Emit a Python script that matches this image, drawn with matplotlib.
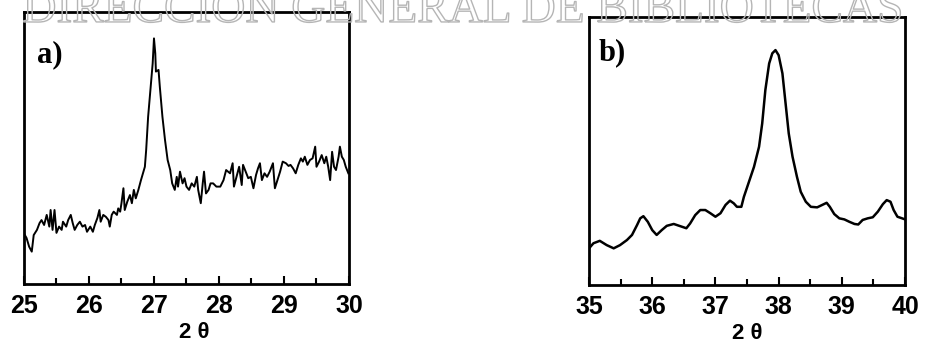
import matplotlib
matplotlib.use("Agg")
import matplotlib.pyplot as plt
import matplotlib.patheffects as pe
from matplotlib.ticker import MultipleLocator

# ==============================
# DATOS
# ==============================
# a) pico alrededor de 27 grados, senal ruidosa
x_a = [25.00, 25.04, 25.08, 25.12, 25.15, 25.20, 25.24, 25.27, 25.31, 25.35,
       25.39, 25.41, 25.44, 25.47, 25.50, 25.54, 25.58, 25.60, 25.65, 25.68,
       25.72, 25.75, 25.78, 25.82, 25.86, 25.90, 25.94, 25.97, 26.02, 26.06,
       26.09, 26.13, 26.16, 26.18, 26.22, 26.26, 26.30, 26.32, 26.35, 26.38,
       26.43, 26.45, 26.48, 26.50, 26.53, 26.55, 26.59, 26.63, 26.66, 26.69,
       26.72, 26.76, 26.80, 26.83, 26.86, 26.88, 26.91, 26.95, 26.98, 27.00,
       27.02, 27.03, 27.07, 27.09, 27.13, 27.17, 27.21, 27.25, 27.28, 27.32,
       27.35, 27.37, 27.40, 27.44, 27.47, 27.50, 27.54, 27.58, 27.62, 27.66,
       27.68, 27.72, 27.75, 27.77, 27.80, 27.84, 27.87, 27.91, 27.96, 28.02,
       28.07, 28.11, 28.14, 28.17, 28.21, 28.23, 28.27, 28.31, 28.35, 28.37,
       28.42, 28.45, 28.49, 28.53, 28.57, 28.60, 28.63, 28.66, 28.70, 28.74,
       28.78, 28.83, 28.86, 28.90, 28.94, 28.98, 29.03, 29.07, 29.10, 29.14,
       29.18, 29.22, 29.26, 29.29, 29.32, 29.36, 29.40, 29.44, 29.48, 29.50,
       29.54, 29.58, 29.62, 29.65, 29.68, 29.71, 29.74, 29.77, 29.80, 29.84,
       29.86, 29.89, 29.92, 29.95, 29.99]
y_a = [18.6, 16.9, 13.7, 11.9, 18.0, 19.9, 22.4, 23.5, 21.7, 25.4,
       21.1, 27.2, 19.9, 27.2, 18.8, 21.1, 19.9, 22.9, 21.1, 23.5,
       25.4, 22.4, 19.9, 21.7, 22.9, 21.1, 21.7, 19.2, 21.1, 19.2,
       21.7, 24.3, 27.2, 22.9, 25.4, 24.7, 23.5, 21.1, 25.4, 26.6,
       25.4, 27.8, 26.6, 29.7, 35.2, 27.2, 30.3, 32.7, 29.7, 34.6,
       31.5, 34.6, 38.2, 40.7, 43.1, 49.3, 61.5, 72.5, 81.1, 90.3,
       84.8, 78.1, 78.7, 72.5, 61.5, 52.9, 45.6, 41.9, 37.0, 34.6,
       39.4, 35.8, 41.3, 37.0, 38.9, 35.8, 34.6, 37.0, 35.8, 39.4,
       34.6, 29.7, 37.0, 41.3, 33.3, 34.6, 37.0, 37.0, 35.8, 35.8,
       38.2, 41.9, 41.3, 40.7, 44.4, 35.8, 39.4, 43.1, 36.4, 43.8,
       40.7, 38.9, 39.4, 35.2, 40.1, 42.5, 44.4, 38.2, 40.7, 39.4,
       41.3, 44.4, 35.2, 38.2, 41.3, 45.0, 44.4, 43.4, 43.8, 42.5,
       40.7, 43.8, 46.2, 45.0, 46.8, 43.8, 45.6, 46.2, 50.5, 43.1,
       45.0, 47.4, 44.4, 46.8, 43.1, 38.2, 48.6, 43.1, 41.9, 46.8,
       50.5, 46.8, 45.6, 43.1, 40.7]

# b) pico alrededor de 38 grados, senal suave
x_b = [35.00, 35.07, 35.17, 35.28, 35.39, 35.49, 35.60, 35.68, 35.76, 35.81,
       35.86, 35.93, 36.00, 36.07, 36.15, 36.23, 36.34, 36.44, 36.54, 36.60,
       36.68, 36.76, 36.84, 36.92, 37.00, 37.08, 37.16, 37.23, 37.29, 37.34,
       37.41, 37.45, 37.53, 37.61, 37.69, 37.74, 37.79, 37.85, 37.90, 37.95,
       38.00, 38.06, 38.11, 38.16, 38.22, 38.29, 38.35, 38.43, 38.51, 38.61,
       38.69, 38.76, 38.81, 38.88, 38.96, 39.04, 39.12, 39.20, 39.26, 39.33,
       39.41, 39.49, 39.57, 39.65, 39.71, 39.77, 39.82, 39.88, 39.99]
y_b = [13.7, 15.6, 16.5, 14.9, 13.7, 14.9, 16.8, 18.7, 22.4, 24.9,
       25.7, 23.6, 20.5, 18.7, 20.5, 22.1, 22.8, 22.0, 21.2, 23.0,
       26.1, 28.0, 28.0, 26.8, 25.5, 26.8, 29.9, 31.5, 30.5, 29.2,
       29.2, 32.9, 38.5, 44.1, 51.6, 60.3, 72.8, 82.7, 86.5, 87.7,
       85.8, 79.0, 67.8, 56.6, 47.9, 40.4, 34.8, 31.1, 29.2, 29.0,
       29.9, 30.7, 29.2, 26.5, 24.9, 24.5, 23.6, 22.8, 22.6, 24.3,
       24.9, 25.3, 27.4, 30.2, 31.7, 31.1, 28.0, 25.5, 24.6]

panel_labels = ['a)', 'b)']
xlims = [(25, 30), (35, 40)]
xlabel = '2 \u03b8'
watermark = 'DIRECCI\u00d3N GENERAL DE BIBLIOTECAS'

# ==============================
# FIGURA
# ==============================
fig = plt.figure(figsize=(9.25, 3.43), dpi=100)
ax_a = fig.add_axes([0.0259, 0.172, 0.3514, 0.793])
ax_b = fig.add_axes([0.6368, 0.169, 0.3416, 0.781])

series = [(x_a, y_a, 1.4), (x_b, y_b, 1.8)]
label_pos = [(0.04, 0.895), (0.03, 0.92)]
xlabel_pos = [0.525, 0.5]

for i, ax in enumerate([ax_a, ax_b]):
    xs, ys, lw = series[i]
    ax.plot(xs, ys, color='black', lw=lw)
    ax.set_xlim(*xlims[i])
    ax.set_ylim(0, 100)
    ax.set_yticks([])
    ax.xaxis.set_major_locator(MultipleLocator(1))
    ax.xaxis.set_minor_locator(MultipleLocator(0.5))
    ax.tick_params(axis='x', which='both', direction='in', width=1.5, pad=7)
    ax.tick_params(axis='x', which='major', length=6)
    ax.tick_params(axis='x', which='minor', length=4)
    for lab in ax.get_xticklabels():
        lab.set_fontfamily('Liberation Sans')
        lab.set_fontweight('bold')
        lab.set_fontsize(18)
    for sp in ax.spines.values():
        sp.set_linewidth(2)
    ax.set_facecolor('none')
    ax.set_xlabel(xlabel, fontfamily='Liberation Sans', fontweight='bold',
                  fontsize=16)
    ax.xaxis.set_label_coords(xlabel_pos[i], -0.14)
    ax.text(label_pos[i][0], label_pos[i][1], panel_labels[i],
            transform=ax.transAxes, ha='left', va='top',
            fontfamily='Liberation Serif', fontweight='bold', fontsize=22)

# marca de agua arriba (solo contorno, cortada por el borde como en el original)
fig.text(0.5, 0.936, watermark, ha='center', va='baseline',
         fontfamily='Liberation Serif', fontsize=34, color='none',
         path_effects=[pe.withStroke(linewidth=1, foreground='#b5b5b5')])

fig.savefig('out.png', dpi=100)
